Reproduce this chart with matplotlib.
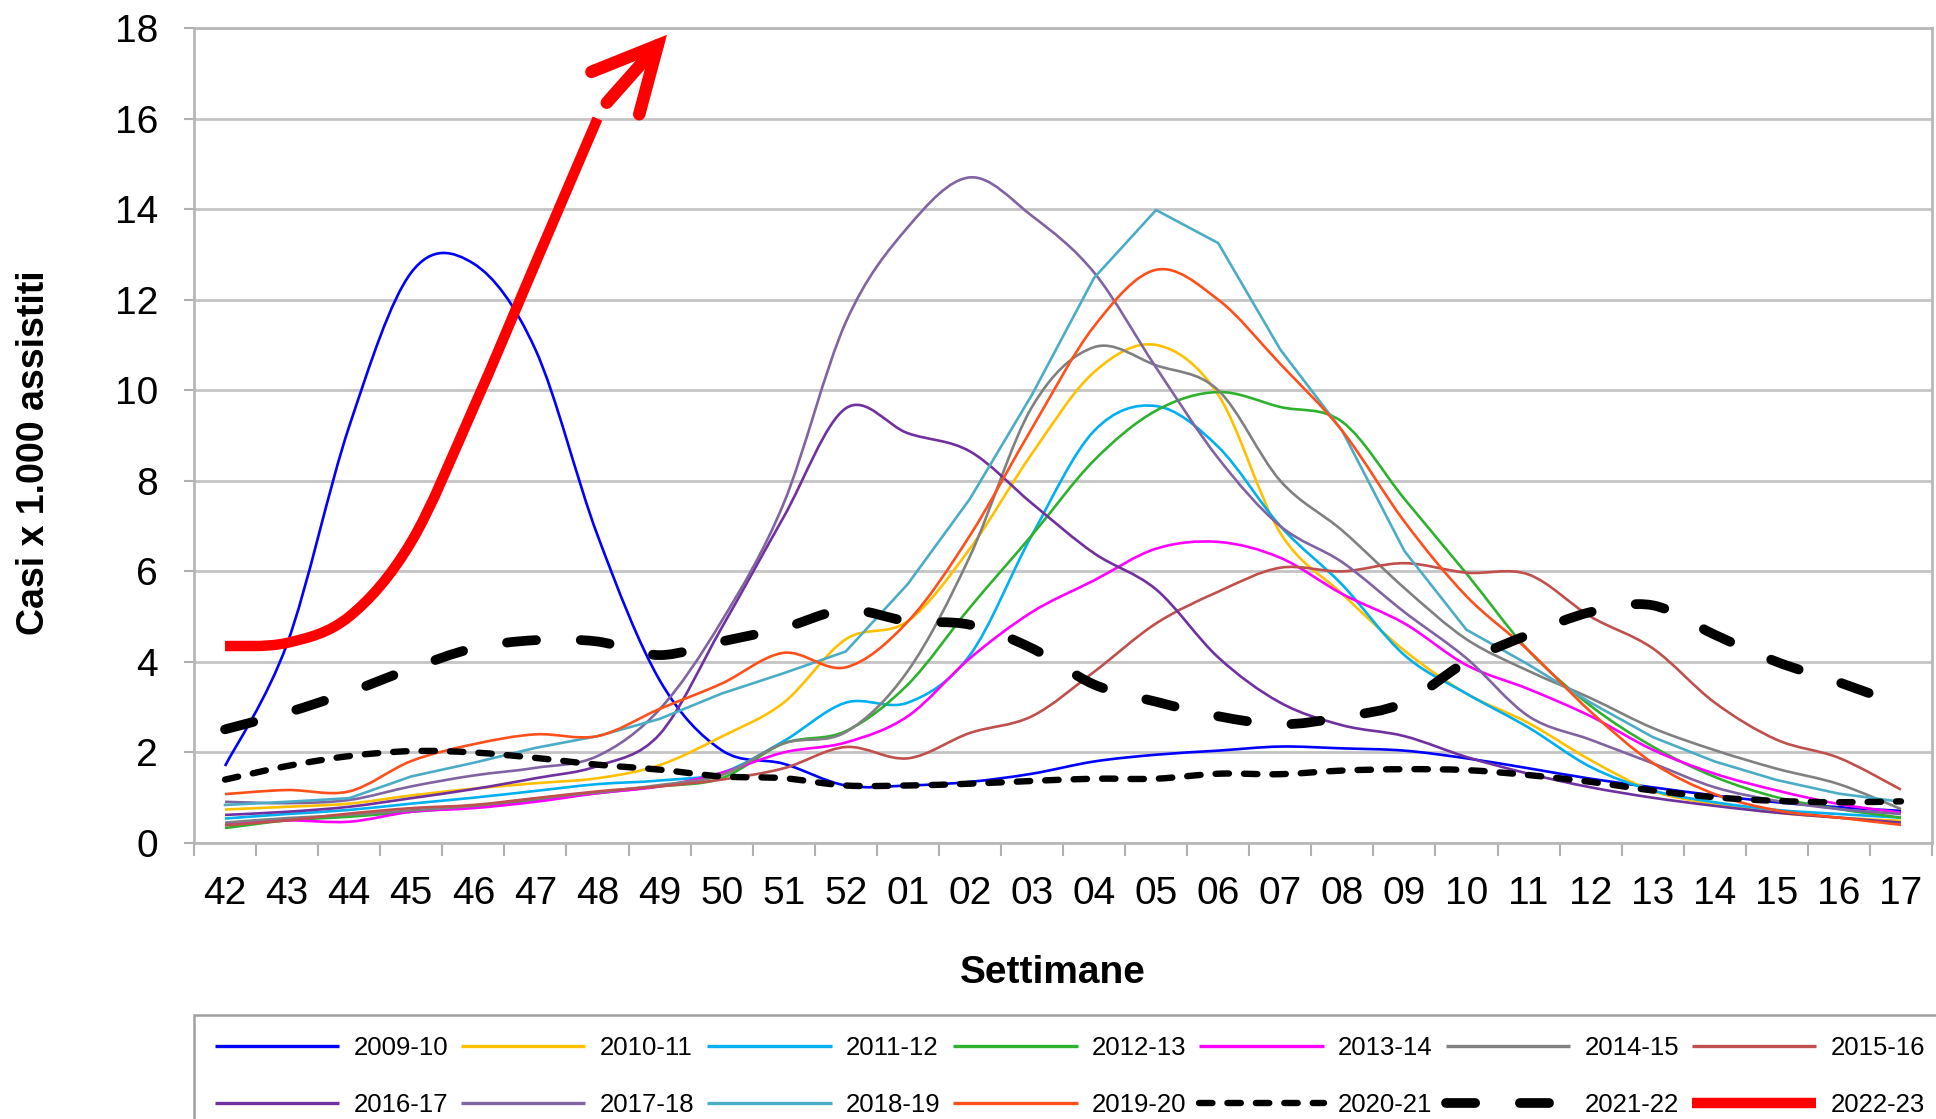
import matplotlib
matplotlib.use('Agg')
import matplotlib.pyplot as plt
from matplotlib.path import Path
from matplotlib.patches import PathPatch
from matplotlib.lines import Line2D
import numpy as np

plt.rcParams['font.family'] = ['Liberation Sans', 'DejaVu Sans']

# settimane della stagione influenzale
settimane = ['42', '43', '44', '45', '46', '47', '48', '49', '50', '51', '52',
             '01', '02', '03', '04', '05', '06', '07', '08', '09', '10', '11',
             '12', '13', '14', '15', '16', '17']

# casi x 1.000 assistiti
s2009_10 = [1.7, 4.4, 9.2, 12.6, 12.8, 10.9, 6.8, 3.6, 2.05, 1.75, 1.27, 1.27, 1.35, 1.53,
            1.8, 1.95, 2.04, 2.13, 2.09, 2.04, 1.87, 1.65, 1.42, 1.23, 1.05, 0.9, 0.79, 0.71]
s2010_11 = [0.74, 0.8, 0.87, 1.05, 1.2, 1.32, 1.43, 1.72, 2.35, 3.1, 4.5, 4.9, 6.5, 8.6,
            10.4, 11.0, 9.9, 6.85, 5.5, 4.25, 3.3, 2.65, 1.83, 1.15, 0.86, 0.67, 0.56, 0.49]
s2011_12 = [0.54, 0.64, 0.73, 0.87, 1.0, 1.15, 1.3, 1.38, 1.55, 2.25, 3.1, 3.1, 4.15, 6.8,
            9.1, 9.65, 8.75, 7.0, 5.7, 4.15, 3.3, 2.55, 1.68, 1.16, 0.9, 0.73, 0.64, 0.56]
s2012_13 = [0.33, 0.5, 0.58, 0.69, 0.8, 0.95, 1.1, 1.25, 1.43, 2.2, 2.47, 3.5, 5.2, 6.8,
            8.45, 9.55, 9.96, 9.63, 9.3, 7.6, 5.95, 4.25, 3.03, 2.13, 1.46, 1.01, 0.75, 0.56]
s2013_14 = [0.43, 0.5, 0.47, 0.69, 0.77, 0.91, 1.1, 1.25, 1.55, 2.0, 2.22, 2.8, 4.08, 5.1,
            5.8, 6.5, 6.65, 6.3, 5.5, 4.85, 3.93, 3.4, 2.8, 2.06, 1.53, 1.16, 0.86, 0.67]
s2014_15 = [0.45, 0.55, 0.62, 0.72, 0.82, 0.98, 1.12, 1.28, 1.5, 2.2, 2.45, 3.8, 6.33, 9.63,
            10.95, 10.55, 10.0, 8.0, 6.9, 5.63, 4.5, 3.8, 3.2, 2.54, 2.05, 1.64, 1.3, 0.75]
s2015_16 = [0.39, 0.5, 0.65, 0.77, 0.84, 0.99, 1.14, 1.25, 1.4, 1.65, 2.12, 1.87, 2.43, 2.8,
            3.78, 4.85, 5.55, 6.08, 6.0, 6.18, 5.97, 5.93, 5.0, 4.3, 3.1, 2.28, 1.88, 1.18]
s2016_17 = [0.62, 0.69, 0.8, 0.99, 1.19, 1.43, 1.7, 2.4, 4.75, 7.2, 9.6, 9.05, 8.65, 7.5,
            6.4, 5.6, 4.1, 3.1, 2.6, 2.36, 1.9, 1.53, 1.23, 1.0, 0.82, 0.67, 0.56, 0.45]
s2017_18 = [0.91, 0.88, 0.95, 1.25, 1.49, 1.66, 1.92, 2.95, 4.9, 7.5, 11.5, 13.6, 14.7, 13.85,
            12.6, 10.5, 8.5, 7.0, 6.2, 5.1, 4.08, 2.8, 2.28, 1.76, 1.23, 0.93, 0.75, 0.64]
s2018_19 = [0.84, 0.91, 0.99, 1.47, 1.77, 2.1, 2.36, 2.74, 3.3, 3.75, 4.23, 5.72, 7.6, 9.9,
            12.48, 13.98, 13.25, 10.9, 9.1, 6.45, 4.71, 3.94, 3.1, 2.34, 1.8, 1.39, 1.09, 0.91]
s2019_20 = [1.08, 1.17, 1.14, 1.81, 2.18, 2.4, 2.36, 2.96, 3.52, 4.2, 3.88, 4.89, 6.79, 9.16,
            11.41, 12.66, 12.0, 10.58, 9.1, 7.1, 5.45, 4.25, 2.9, 1.77, 1.08, 0.72, 0.56, 0.4]
s2020_21 = [1.4, 1.7, 1.92, 2.03, 2.0, 1.88, 1.73, 1.62, 1.47, 1.43, 1.27, 1.27, 1.31, 1.37,
            1.42, 1.42, 1.53, 1.52, 1.6, 1.63, 1.61, 1.5, 1.35, 1.16, 1.01, 0.93, 0.9, 0.92]
s2021_22 = [2.51, 2.88, 3.33, 3.85, 4.3, 4.48, 4.45, 4.15, 4.45, 4.75, 5.15, 4.9, 4.82, 4.3,
            3.5, 3.12, 2.8, 2.62, 2.78, 3.1, 4.0, 4.6, 5.1, 5.25, 4.6, 4.0, 3.55, 3.05]
s2022_23 = [4.35, 4.42, 5.0, 6.65, 9.6, 12.8, 16.0]

stagioni = ['2009-10', '2010-11', '2011-12', '2012-13', '2013-14', '2014-15', '2015-16',
            '2016-17', '2017-18', '2018-19', '2019-20', '2020-21', '2021-22', '2022-23']
serie = [s2009_10, s2010_11, s2011_12, s2012_13, s2013_14, s2014_15, s2015_16,
         s2016_17, s2017_18, s2018_19, s2019_20, s2020_21, s2021_22, s2022_23]

colori = ['#0000FF', '#FFC000', '#00B0F0', '#2EB22E', '#FF00FF', '#808080', '#C0504D',
          '#7030A0', '#8064A2', '#4BACC6', '#FF4F1A', 'black', 'black', '#FF0000']
spessori = [1.9] * 11 + [4.6, 7.0, 7.5]
stili = ['-'] * 11 + [(0, (2.1, 2.35)), (0, (3.0, 4.6)), '-']
smussate = [True] * 9 + [False] + [True] * 4


def percorso_smussato(xs, ys):
    # curva di Bezier tipo "linea smussata" di Excel
    pts = list(zip(xs, ys))
    n = len(pts)
    verts = [pts[0]]
    codes = [Path.MOVETO]
    for i in range(n - 1):
        p0 = pts[max(i - 1, 0)]
        p1 = pts[i]
        p2 = pts[i + 1]
        p3 = pts[min(i + 2, n - 1)]
        c1 = (p1[0] + (p2[0] - p0[0]) / 6, p1[1] + (p2[1] - p0[1]) / 6)
        c2 = (p2[0] - (p3[0] - p1[0]) / 6, p2[1] - (p3[1] - p1[1]) / 6)
        verts += [c1, c2, p2]
        codes += [Path.CURVE4] * 3
    return Path(verts, codes)


fig = plt.figure(figsize=(19.36, 11.19), dpi=100)
ax = fig.add_axes([194 / 1936, 1 - 843 / 1119, 1738 / 1936, 815 / 1119])

maniglie = []
for nome, valori, col, lw, ls, sm in zip(stagioni, serie, colori, spessori, stili, smussate):
    xs = np.arange(len(valori))
    cap = 'round' if col == 'black' else 'butt'
    if sm:
        patch = PathPatch(percorso_smussato(xs, valori), fill=False, edgecolor=col,
                          linewidth=lw, linestyle=ls, capstyle=cap, joinstyle='round',
                          transform=ax.transData, zorder=3)
        ax.add_patch(patch)
    else:
        ax.plot(xs, valori, color=col, linewidth=lw, linestyle=ls, zorder=3)
    maniglie.append(Line2D([], [], color=col, linewidth=max(lw, 2.4), linestyle=ls,
                           dash_capstyle='round', solid_capstyle='butt'))

# freccia rossa
ax.annotate('', xy=(7.12, 17.85), xytext=(6.15, 16.35),
            arrowprops=dict(arrowstyle='->,head_length=2.3,head_width=1.15', color='#FF0000',
                            lw=9, mutation_scale=20, shrinkA=0, shrinkB=0,
                            capstyle='round', joinstyle='miter'),
            annotation_clip=False, zorder=5)

ax.set_xlim(-0.5, 27.5)
ax.set_ylim(0, 18)
ax.set_yticks(np.arange(0, 19, 2))
ax.set_xticks(np.arange(len(settimane)))
ax.set_xticklabels(settimane)
ax.set_xticks(np.arange(-0.5, 28, 1), minor=True)

ax.tick_params(axis='x', which='major', length=0, pad=24, labelsize=28)
ax.tick_params(axis='x', which='minor', length=9, width=1.5, color='#B0B0B0', direction='out')
ax.tick_params(axis='y', which='major', length=7, width=1.5, color='#B0B0B0', pad=19, labelsize=28)

ax.yaxis.grid(True, color='#C4C4C4', linewidth=2)
ax.set_axisbelow(True)
for lato in ['left', 'bottom', 'right', 'top']:
    ax.spines[lato].set_color('#B8B8B8')
    ax.spines[lato].set_linewidth(2)

ax.set_ylabel('Casi x 1.000 assistiti', fontsize=27, fontweight='bold')
ax.yaxis.set_label_coords(-0.0815, 0.479)
ax.set_xlabel('Settimane', fontsize=28, fontweight='bold')
ax.xaxis.set_label_coords(0.494, -0.137)

ordine = [0, 7, 1, 8, 2, 9, 3, 10, 4, 11, 5, 12, 6, 13]
leg = fig.legend([maniglie[i] for i in ordine], [stagioni[i] for i in ordine],
                 loc='upper left', bbox_to_anchor=(194 / 1936, 1 - 1015 / 1119),
                 borderaxespad=0, ncol=7, fontsize=18.5, handlelength=4.85,
                 handletextpad=0.55, columnspacing=0.5, borderpad=0.8, labelspacing=1.3,
                 frameon=True, fancybox=False, edgecolor='#A0A0A0', framealpha=1)
leg.get_frame().set_linewidth(1.8)

plt.savefig('out.png', dpi=100)
